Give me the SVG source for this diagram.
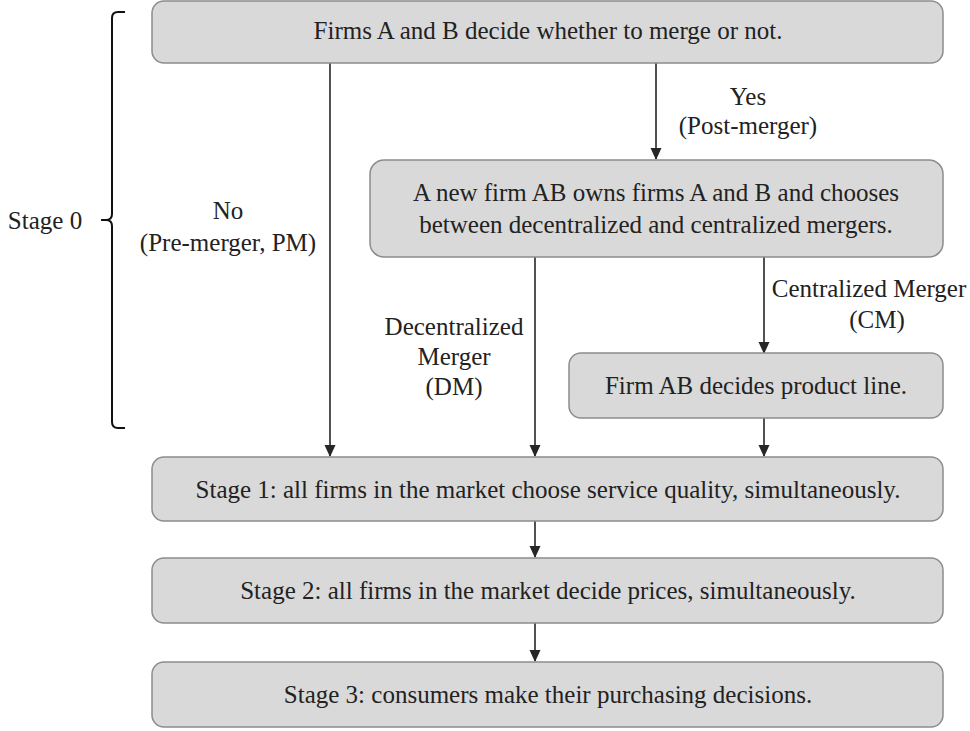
<svg xmlns="http://www.w3.org/2000/svg" width="970" height="731" viewBox="0 0 970 731">
<style>
.box{fill:#d9d9d9;stroke:#8c8c8c;stroke-width:1.5}
.t{font-family:"Liberation Serif","Times New Roman",serif;font-size:25px;fill:#222;text-anchor:middle}
.c{stroke:#262626;stroke-width:1.6;fill:none;marker-end:url(#ah)}
.br{stroke:#111;stroke-width:2;fill:none}
</style>
<defs>
<marker id="ah" markerUnits="userSpaceOnUse" markerWidth="12" markerHeight="12" viewBox="0 0 12 12" refX="11" refY="6" orient="auto">
<path d="M0,0.5 L12,6 L0,11.5 Z" fill="#262626"/>
</marker>
</defs>
<rect width="970" height="731" fill="#fff"/>
<g id="connectors">
<line class="c" x1="330" y1="63" x2="330" y2="456"/>
<line class="c" x1="656" y1="63" x2="656" y2="159"/>
<line class="c" x1="535" y1="257" x2="535" y2="456"/>
<line class="c" x1="764" y1="257" x2="764" y2="353"/>
<line class="c" x1="764" y1="418" x2="764" y2="456"/>
<line class="c" x1="535" y1="521" x2="535" y2="557"/>
<line class="c" x1="535" y1="623" x2="535" y2="661"/>
</g>
<g id="labels">
<text class="t" x="748" y="105">Yes</text>
<text class="t" x="748" y="134">(Post-merger)</text>
<text class="t" x="228" y="219">No</text>
<text class="t" x="228" y="251">(Pre-merger, PM)</text>
<text class="t" x="454" y="335">Decentralized</text>
<text class="t" x="454" y="365">Merger</text>
<text class="t" x="454" y="395">(DM)</text>
<text class="t" x="869" y="297">Centralized Merger</text>
<text class="t" x="877" y="328">(CM)</text>
</g>
<g id="stage0">
<path class="br" d="M125,12 L118,12 Q112,12 112,18 L112,214 Q112,220 106,220 L101,220 M106,220 Q112,220 112,226 L112,422 Q112,428 118,428 L125,428"/>
<text class="t" x="45" y="229">Stage 0</text>
</g>
<g id="n-merge">
<rect class="box" x="152" y="1" width="791" height="62" rx="12"/>
<text class="t" x="548" y="39">Firms A and B decide whether to merge or not.</text>
</g>
<g id="n-ab">
<rect class="box" x="370" y="160" width="573" height="97" rx="14"/>
<text class="t" x="656" y="201">A new firm AB owns firms A and B and chooses</text>
<text class="t" x="656" y="233">between decentralized and centralized mergers.</text>
</g>
<g id="n-product">
<rect class="box" x="569" y="353" width="374" height="65" rx="12"/>
<text class="t" x="756" y="394">Firm AB decides product line.</text>
</g>
<g id="n-stage1">
<rect class="box" x="152" y="457" width="791" height="64" rx="12"/>
<text class="t" x="548" y="498">Stage 1: all firms in the market choose service quality, simultaneously.</text>
</g>
<g id="n-stage2">
<rect class="box" x="152" y="558" width="791" height="65" rx="12"/>
<text class="t" x="548" y="599">Stage 2: all firms in the market decide prices, simultaneously.</text>
</g>
<g id="n-stage3">
<rect class="box" x="152" y="662" width="791" height="65" rx="12"/>
<text class="t" x="548" y="703">Stage 3: consumers make their purchasing decisions.</text>
</g>
</svg>
